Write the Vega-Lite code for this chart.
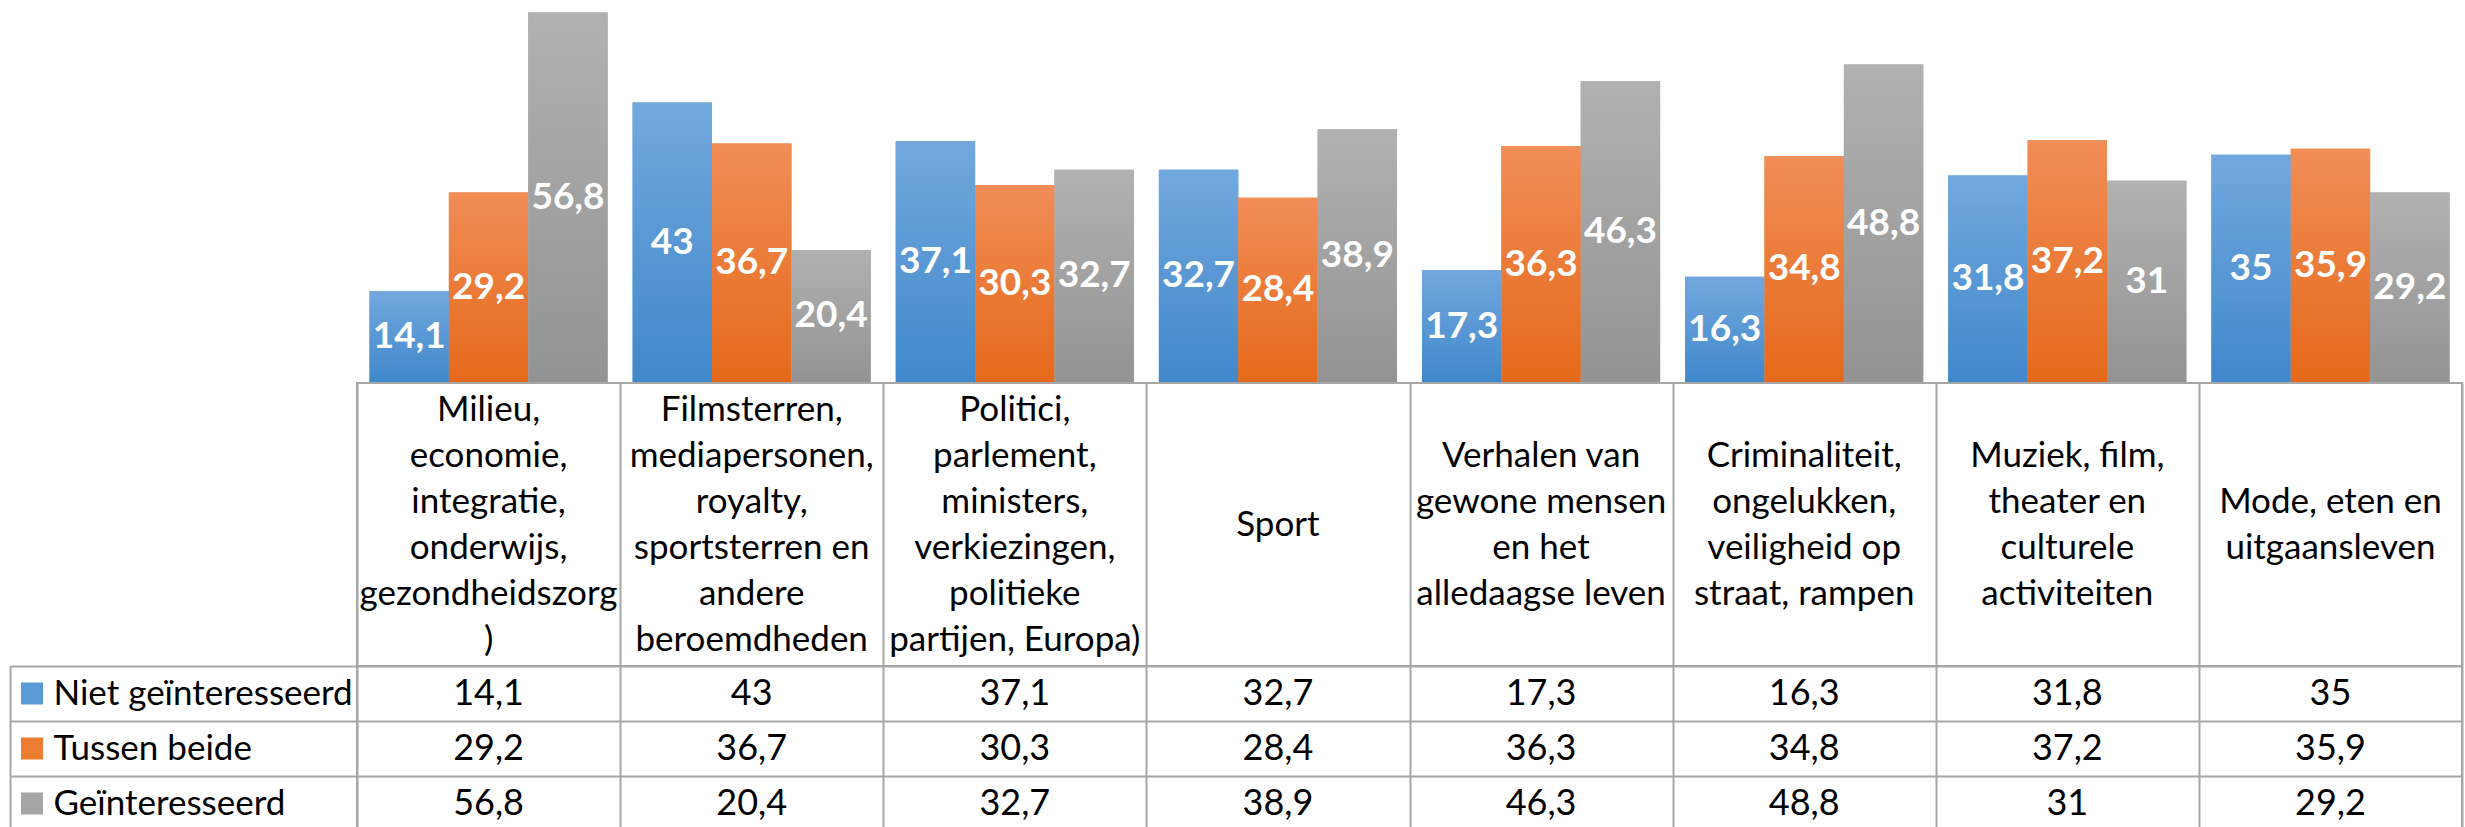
{
  "$schema": "https://vega.github.io/schema/vega-lite/v6.json",
  "padding": {"left": 8, "top": 0, "right": 5, "bottom": 0},
  "autosize": {"type": "pad"},
  "bounds": "flush",
  "spacing": 0,
  "datasets": {
    "vals": [
      {"cat": "Milieu", "series": "Niet geïnteresseerd", "value": 14.1},
      {"cat": "Milieu", "series": "Tussen beide", "value": 29.2},
      {"cat": "Milieu", "series": "Geïnteresseerd", "value": 56.8},
      {"cat": "Filmsterren", "series": "Niet geïnteresseerd", "value": 43},
      {"cat": "Filmsterren", "series": "Tussen beide", "value": 36.7},
      {"cat": "Filmsterren", "series": "Geïnteresseerd", "value": 20.4},
      {"cat": "Politici", "series": "Niet geïnteresseerd", "value": 37.1},
      {"cat": "Politici", "series": "Tussen beide", "value": 30.3},
      {"cat": "Politici", "series": "Geïnteresseerd", "value": 32.7},
      {"cat": "Sport", "series": "Niet geïnteresseerd", "value": 32.7},
      {"cat": "Sport", "series": "Tussen beide", "value": 28.4},
      {"cat": "Sport", "series": "Geïnteresseerd", "value": 38.9},
      {"cat": "Verhalen", "series": "Niet geïnteresseerd", "value": 17.3},
      {"cat": "Verhalen", "series": "Tussen beide", "value": 36.3},
      {"cat": "Verhalen", "series": "Geïnteresseerd", "value": 46.3},
      {"cat": "Criminaliteit", "series": "Niet geïnteresseerd", "value": 16.3},
      {"cat": "Criminaliteit", "series": "Tussen beide", "value": 34.8},
      {"cat": "Criminaliteit", "series": "Geïnteresseerd", "value": 48.8},
      {"cat": "Muziek", "series": "Niet geïnteresseerd", "value": 31.8},
      {"cat": "Muziek", "series": "Tussen beide", "value": 37.2},
      {"cat": "Muziek", "series": "Geïnteresseerd", "value": 31},
      {"cat": "Mode", "series": "Niet geïnteresseerd", "value": 35},
      {"cat": "Mode", "series": "Tussen beide", "value": 35.9},
      {"cat": "Mode", "series": "Geïnteresseerd", "value": 29.2}
    ],
    "cats": [
      {"cat": "Milieu", "label": "Milieu,\neconomie,\nintegratie,\nonderwijs,\ngezondheidszorg\n)"},
      {"cat": "Filmsterren", "label": "Filmsterren,\nmediapersonen,\nroyalty,\nsportsterren en\nandere\nberoemdheden"},
      {"cat": "Politici", "label": "Politici,\nparlement,\nministers,\nverkiezingen,\npolitieke\npartijen, Europa)"},
      {"cat": "Sport", "label": "Sport"},
      {"cat": "Verhalen", "label": "Verhalen van\ngewone mensen\nen het\nalledaagse leven"},
      {"cat": "Criminaliteit", "label": "Criminaliteit,\nongelukken,\nveiligheid op\nstraat, rampen"},
      {"cat": "Muziek", "label": "Muziek, film,\ntheater en\nculturele\nactiviteiten"},
      {"cat": "Mode", "label": "Mode, eten en\nuitgaansleven"}
    ]
  },
  "vconcat": [
    {
      "width": 2105,
      "height": 383,
      "view": {"stroke": null},
      "data": {"name": "vals"},
      "encoding": {
        "x": {"field": "cat", "type": "nominal", "sort": ["Milieu", "Filmsterren", "Politici", "Sport", "Verhalen", "Criminaliteit", "Muziek", "Mode"], "scale": {"paddingInner": 0.095, "paddingOuter": 0.0475}, "axis": null},
        "xOffset": {"field": "series", "type": "nominal", "sort": ["Niet geïnteresseerd", "Tussen beide", "Geïnteresseerd"], "scale": {"paddingInner": 0, "paddingOuter": 0}}
      },
      "layer": [
        {
          "mark": {"type": "bar"},
          "encoding": {
            "y": {"field": "value", "type": "quantitative", "scale": {"domain": [0, 58.7], "nice": false}, "axis": null},
            "color": {
              "field": "series", "type": "nominal",
              "scale": {"domain": ["Niet geïnteresseerd", "Tussen beide", "Geïnteresseerd"], "range": ["#5b9bd5", "#ed7d31", "#a5a5a5"]},
              "legend": {"orient": "none", "legendX": -336, "legendY": 682.5, "direction": "vertical", "title": null, "symbolType": "square", "symbolSize": 484, "symbolStrokeWidth": 0, "symbolOpacity": 1, "rowPadding": 33, "labelExpr": "''", "labelFontSize": 1, "padding": 0}
            }
          }
        },
        {
          "mark": {"type": "bar"},
          "encoding": {
            "y": {"field": "value", "type": "quantitative", "scale": {"domain": [0, 58.7], "nice": false}, "axis": null},
            "color": {
              "condition": [
                {"test": "datum.series === 'Niet geïnteresseerd'", "value": {"gradient": "linear", "x1": 0, "y1": 0, "x2": 0, "y2": 1, "stops": [{"offset": 0, "color": "#72a8de"}, {"offset": 1, "color": "#4088cb"}]}},
                {"test": "datum.series === 'Tussen beide'", "value": {"gradient": "linear", "x1": 0, "y1": 0, "x2": 0, "y2": 1, "stops": [{"offset": 0, "color": "#f18d57"}, {"offset": 1, "color": "#e5691a"}]}}
              ],
              "value": {"gradient": "linear", "x1": 0, "y1": 0, "x2": 0, "y2": 1, "stops": [{"offset": 0, "color": "#b1b1b1"}, {"offset": 1, "color": "#939393"}]}
            }
          }
        },
        {
          "mark": {"type": "text", "color": "white", "fontWeight": "bold", "fontSize": 37, "baseline": "middle", "align": "center"},
          "encoding": {
            "y": {"field": "value", "type": "quantitative", "scale": {"domain": [0, 117.4], "nice": false}, "axis": null},
            "text": {"field": "value", "type": "quantitative", "format": "~g"}
          }
        }
      ],
      "resolve": {"scale": {"y": "independent"}}
    },
    {
      "width": 2105,
      "height": 283,
      "view": {"stroke": "#a6a6a6", "strokeWidth": 2},
      "data": {"name": "cats"},
      "encoding": {
        "x": {"field": "cat", "type": "nominal", "sort": ["Milieu", "Filmsterren", "Politici", "Sport", "Verhalen", "Criminaliteit", "Muziek", "Mode"], "scale": {"paddingInner": 0, "paddingOuter": 0}, "axis": {"labels": false, "ticks": false, "domain": false, "grid": true, "tickBand": "extent", "title": null, "gridColor": "#a6a6a6", "gridWidth": 2}},
        "text": {"field": "label", "type": "nominal"}
      },
      "layer": [
        {
          "transform": [{"filter": {"field": "cat", "oneOf": ["Milieu", "Filmsterren", "Politici"]}}],
          "mark": {"type": "text", "lineBreak": "\n", "lineHeight": 46, "fontSize": 35, "baseline": "middle", "align": "center", "color": "black", "dy": -115}
        },
        {
          "transform": [{"filter": {"field": "cat", "oneOf": ["Verhalen", "Criminaliteit", "Muziek"]}}],
          "mark": {"type": "text", "lineBreak": "\n", "lineHeight": 46, "fontSize": 35, "baseline": "middle", "align": "center", "color": "black", "dy": -69}
        },
        {
          "transform": [{"filter": {"field": "cat", "oneOf": ["Mode"]}}],
          "mark": {"type": "text", "lineBreak": "\n", "lineHeight": 46, "fontSize": 35, "baseline": "middle", "align": "center", "color": "black", "dy": -23}
        },
        {
          "transform": [{"filter": {"field": "cat", "oneOf": ["Sport"]}}],
          "mark": {"type": "text", "lineBreak": "\n", "lineHeight": 46, "fontSize": 35, "baseline": "middle", "align": "center", "color": "black"}
        }
      ]
    },
    {
      "width": 2105,
      "height": 165,
      "view": {"stroke": "#a6a6a6", "strokeWidth": 2},
      "data": {"name": "vals"},
      "mark": {"type": "text", "fontSize": 36, "baseline": "middle", "align": "center", "color": "black"},
      "encoding": {
        "x": {"field": "cat", "type": "nominal", "sort": ["Milieu", "Filmsterren", "Politici", "Sport", "Verhalen", "Criminaliteit", "Muziek", "Mode"], "scale": {"paddingInner": 0, "paddingOuter": 0}, "axis": {"labels": false, "ticks": false, "domain": false, "grid": true, "tickBand": "extent", "title": null, "gridColor": "#a6a6a6", "gridWidth": 2}},
        "y": {"field": "series", "type": "nominal", "sort": ["Niet geïnteresseerd", "Tussen beide", "Geïnteresseerd"], "scale": {"paddingInner": 0, "paddingOuter": 0},
          "axis": {"orient": "left", "offset": 347, "tickSize": -347, "tickBand": "extent", "ticks": true, "tickColor": "#a6a6a6", "tickWidth": 2, "domain": true, "domainColor": "#a6a6a6", "domainWidth": 2, "grid": true, "gridColor": "#a6a6a6", "gridWidth": 2, "labelAlign": "left", "labelBaseline": "middle", "labelPadding": 304, "labelFontSize": 35, "labelColor": "black", "labelLimit": 0, "title": null}},
        "text": {"field": "value", "type": "quantitative", "format": "~g"}
      }
    }
  ],
  "resolve": {"scale": {"x": "independent", "y": "independent", "color": "independent"}},
  "config": {
    "font": "Lato, sans-serif",
    "view": {"stroke": null},
    "locale": {"number": {"decimal": ",", "thousands": ".", "grouping": [3], "currency": ["€", ""]}}
  }
}
